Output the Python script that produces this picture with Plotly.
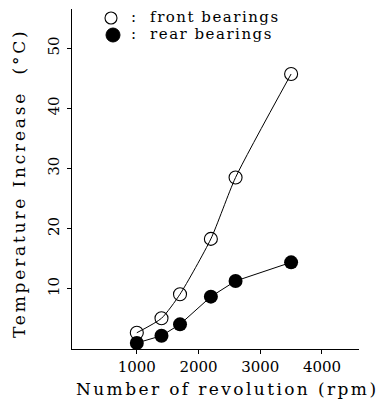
import plotly.graph_objects as go

rpm = [1000, 1400, 1700, 2200, 2600, 3500]
front = [2.7, 5.1, 9.1, 18.3, 28.5, 45.7]
rear = [1.0, 2.2, 4.1, 8.7, 11.3, 14.4]
x_ticks = [1000, 2000, 3000, 4000]
y_ticks = [10, 20, 30, 40, 50]
x_title = "Number of revolution (rpm)"
y_title = "Temperature Increase  (°C)"
front_label = ":  front bearings"
rear_label = ":  rear bearings"

FONT = "DejaVu Serif"

def spaced(txt, sp):
    return f'<span style="letter-spacing:{sp}px">{txt}</span>'

fig = go.Figure()
fig.add_trace(go.Scatter(
    x=rpm, y=front, mode="lines+markers",
    line=dict(color="black", width=1, shape="spline", smoothing=0.6),
    marker=dict(symbol="circle-open", size=13, color="black", line=dict(width=1.1)),
    showlegend=False))
fig.add_trace(go.Scatter(
    x=rpm, y=rear, mode="lines+markers",
    line=dict(color="black", width=1),
    marker=dict(symbol="circle", size=14, color="black"),
    showlegend=False))

L, R, T, B = 72, 22, 9, 55
W, H = 381, 404
pw, ph = W - L - R, H - T - B

def px(xp):
    return (xp - L) / pw

def py(yp):
    return (H - B - yp) / ph

fig.update_layout(
    width=W, height=H,
    margin=dict(l=L, r=R, t=T, b=B),
    paper_bgcolor="white", plot_bgcolor="white",
    font=dict(family=FONT, color="black", size=15),
    xaxis=dict(range=[-50, 4600], tickvals=x_ticks, ticks="outside", ticklen=4,
               tickcolor="black", showline=True, linecolor="black", linewidth=1.3,
               showgrid=False, zeroline=False, tickfont=dict(size=15, family=FONT),
               ticklabelstandoff=0),
    yaxis=dict(range=[0, 56.5], tickvals=y_ticks, ticks="outside", ticklen=4,
               tickcolor="black", showline=True, linecolor="black", linewidth=1.3,
               showgrid=False, zeroline=False, tickangle=-90,
               tickfont=dict(size=15, family=FONT), ticklabelstandoff=2),
    showlegend=False,
)

fig.add_annotation(x=px(227), y=py(389), xref="paper", yref="paper",
                   text=spaced(x_title, 2.4), showarrow=False, font=dict(size=17, family=FONT),
                   xanchor="center", yanchor="middle")
fig.add_annotation(x=px(19), y=py(184), xref="paper", yref="paper",
                   text=spaced(y_title, 2.8), showarrow=False, font=dict(size=17, family=FONT),
                   textangle=-90, xanchor="center", yanchor="middle")

# legend markers
fig.add_shape(type="circle", xref="paper", yref="paper", xsizemode="pixel", ysizemode="pixel",
              xanchor=px(111), yanchor=py(18), x0=-6, x1=6, y0=-6, y1=6,
              line=dict(color="black", width=1.1), fillcolor="white")
fig.add_shape(type="circle", xref="paper", yref="paper", xsizemode="pixel", ysizemode="pixel",
              xanchor=px(113), yanchor=py(35), x0=-7, x1=7, y0=-7, y1=7,
              line=dict(color="black", width=1), fillcolor="black")
fig.add_annotation(x=px(129), y=py(17), xref="paper", yref="paper", text=spaced(front_label, 1.5),
                   showarrow=False, font=dict(size=15, family=FONT), xanchor="left", yanchor="middle")
fig.add_annotation(x=px(129), y=py(34), xref="paper", yref="paper", text=spaced(rear_label, 1.5),
                   showarrow=False, font=dict(size=15, family=FONT), xanchor="left", yanchor="middle")

fig.write_html("out.html")
